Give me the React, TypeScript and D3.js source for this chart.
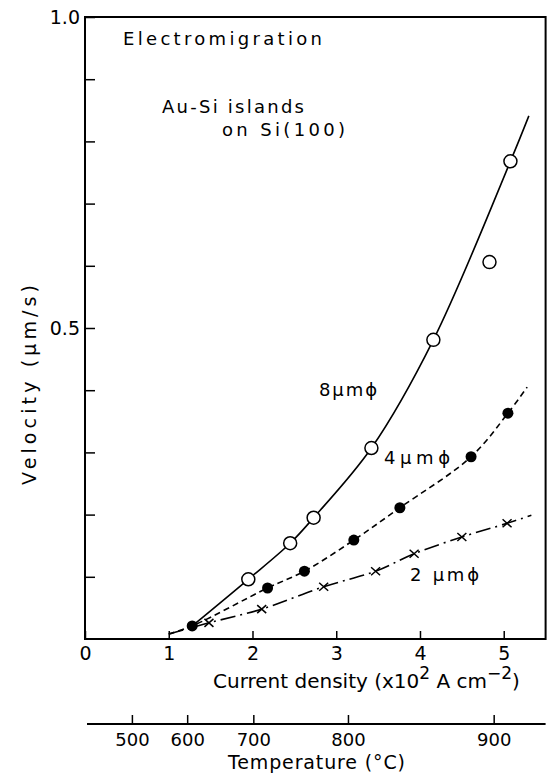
import React, { useEffect, useRef } from "react";
import * as d3 from "d3";

// current density (x10^2 A cm^-2) and velocity (um/s)
// 8 um islands, open circles
const big_j = [1.95, 2.45, 2.73, 3.42, 4.16, 4.83, 5.08];
const big_v = [0.096, 0.154, 0.195, 0.307, 0.481, 0.606, 0.768];
const bigCurve_j = [1.28, 1.95, 2.45, 2.73, 3.42, 4.16, 5.08, 5.3];
const bigCurve_v = [0.021, 0.096, 0.154, 0.195, 0.307, 0.481, 0.768, 0.841];

// 4 um islands, filled circles
const mid_j = [1.28, 2.18, 2.62, 3.21, 3.76, 4.61, 5.05];
const mid_v = [0.021, 0.082, 0.109, 0.159, 0.211, 0.293, 0.363];
const midCurve_j = [1.0, 1.28, 2.18, 2.62, 3.21, 3.76, 4.61, 5.05, 5.28];
const midCurve_v = [0.008, 0.021, 0.082, 0.109, 0.159, 0.211, 0.293, 0.363, 0.405];

// 2 um islands, crosses
const small_j = [1.48, 2.11, 2.85, 3.47, 3.93, 4.5, 5.04];
const small_v = [0.026, 0.048, 0.084, 0.109, 0.137, 0.164, 0.186];
const smallCurve_j = [1.0, 1.48, 2.11, 2.85, 3.47, 3.93, 4.5, 5.04, 5.33];
const smallCurve_v = [0.008, 0.026, 0.048, 0.084, 0.109, 0.137, 0.164, 0.186, 0.199];

// axes
const densityTicks = [0, 1, 2, 3, 4, 5];
const velocityTicks = [0.1, 0.2, 0.3, 0.4, 0.5, 0.6, 0.7, 0.8, 0.9, 1.0];
const velocityLabels = [0.5, 1.0];
const tempTicks = [500, 600, 700, 800, 900];
const tempAtDensity = [0.56, 1.22, 2.01, 3.14, 4.88]; // where each temperature sits on the density axis

const W = 547;
const H = 779;
const FONT = "'DejaVu Sans', sans-serif";

const App = () => {
  const svgRef = useRef<SVGSVGElement>(null);

  useEffect(() => {
    const svg = d3.select(svgRef.current);
    svg.selectAll("*").remove();

    const x = d3.scaleLinear().domain([0, 5.5]).range([85, 545.6]);
    const y = d3.scaleLinear().domain([0, 1]).range([639, 17]);

    svg.append("rect").attr("width", W).attr("height", H).attr("fill", "#fff");

    // frame
    svg.append("rect")
      .attr("x", x(0)).attr("y", y(1))
      .attr("width", x(5.5) - x(0)).attr("height", y(0) - y(1))
      .attr("fill", "none").attr("stroke", "#000").attr("stroke-width", 2);

    // x axis, ticks pointing in
    const gx = svg.append("g")
      .attr("transform", `translate(0,${y(0)})`)
      .call(d3.axisBottom(x).tickValues(densityTicks).tickFormat(d => String(d))
        .tickSizeInner(-8).tickSizeOuter(0).tickPadding(8));
    gx.select(".domain").remove();
    gx.attr("font-size", 19).attr("font-family", FONT);
    gx.selectAll("line").attr("stroke-width", 1.5);

    // y axis
    const gy = svg.append("g")
      .attr("transform", `translate(${x(0)},0)`)
      .call(d3.axisLeft(y).tickValues(velocityTicks)
        .tickFormat(d => (velocityLabels.includes(+d) ? (+d).toFixed(1) : ""))
        .tickSizeInner(-10).tickSizeOuter(0).tickPadding(5));
    gy.select(".domain").remove();
    gy.attr("font-size", 19).attr("font-family", FONT);
    gy.selectAll("line").attr("stroke-width", 1.5);

    // temperature axis under the chart
    const t = d3.scaleLinear().domain(tempTicks).range(tempAtDensity.map(d => x(d)));
    const gt = svg.append("g")
      .attr("transform", "translate(0,724)")
      .call(d3.axisBottom(t).tickValues(tempTicks).tickFormat(d => String(d))
        .tickSizeInner(-9).tickSizeOuter(0).tickPadding(9));
    gt.select(".domain").remove();
    gt.attr("font-size", 18).attr("font-family", FONT);
    gt.selectAll("line").attr("stroke-width", 1.5);
    gt.append("line")
      .attr("x1", x(0) + 2).attr("x2", x(5.5))
      .attr("stroke", "#000").attr("stroke-width", 2);

    // curves
    const line = d3.line<[number, number]>()
      .x(d => x(d[0]))
      .y(d => y(d[1]))
      .curve(d3.curveCatmullRom.alpha(0.5));

    const curves = [
      { j: bigCurve_j, v: bigCurve_v, dash: null },
      { j: midCurve_j, v: midCurve_v, dash: "6,4" },
      { j: smallCurve_j, v: smallCurve_v, dash: "15,5,2,5" },
    ];
    curves.forEach(c => {
      svg.append("path")
        .attr("d", line(d3.zip(c.j, c.v) as [number, number][]))
        .attr("fill", "none")
        .attr("stroke", "#000")
        .attr("stroke-width", 1.6)
        .attr("stroke-dasharray", c.dash);
    });

    // markers
    svg.selectAll(".cross")
      .data(d3.zip(small_j, small_v))
      .join("path")
      .attr("class", "cross")
      .attr("transform", d => `translate(${x(d[0])},${y(d[1])})`)
      .attr("d", "M-4.5,-4L4.5,4M-4.5,4L4.5,-4")
      .attr("stroke", "#000")
      .attr("stroke-width", 1.5);

    svg.selectAll(".filled")
      .data(d3.zip(mid_j, mid_v))
      .join("circle")
      .attr("class", "filled")
      .attr("cx", d => x(d[0]))
      .attr("cy", d => y(d[1]))
      .attr("r", 5.5)
      .attr("fill", "#000");

    svg.selectAll(".open")
      .data(d3.zip(big_j, big_v))
      .join("circle")
      .attr("class", "open")
      .attr("cx", d => x(d[0]))
      .attr("cy", d => y(d[1]))
      .attr("r", 6.5)
      .attr("fill", "#fff")
      .attr("stroke", "#000")
      .attr("stroke-width", 1.5);

    // texts
    const label = (txt: string, px: number, py: number, size: number, len?: number) => {
      const el = svg.append("text")
        .attr("x", px).attr("y", py)
        .attr("font-family", FONT).attr("font-size", size)
        .attr("fill", "#000")
        .text(txt);
      if (len) el.attr("textLength", len).attr("lengthAdjust", "spacing");
      return el;
    };
    label("Electromigration", 123, 45, 18, 199);
    label("Au-Si islands", 162, 113, 18, 142);
    label("on Si(100)", 222, 136, 18, 123);
    label("8μmϕ", 319, 396, 18, 58);
    label("4μmϕ", 384, 464, 18, 66);
    label("2 μmϕ", 410, 581, 18, 69);
    label("Temperature (°C)", 228, 769, 19, 177);

    // x title with superscripts
    const xt = svg.append("text")
      .attr("x", 213).attr("y", 688)
      .attr("font-family", FONT).attr("font-size", 20);
    xt.append("tspan").text("Current density (x10");
    xt.append("tspan").attr("dy", -9).attr("font-size", 17).text("2");
    xt.append("tspan").attr("dy", 9).text(" A cm");
    xt.append("tspan").attr("dy", -9).attr("font-size", 17).text("−2");
    xt.append("tspan").attr("dy", 9).text(")");

    // y title
    svg.append("text")
      .attr("transform", "translate(36,385) rotate(-90)")
      .attr("text-anchor", "middle")
      .attr("font-family", FONT).attr("font-size", 19)
      .attr("textLength", 200).attr("lengthAdjust", "spacing")
      .text("Velocity (μm/s)");
  }, []);

  return (
    <svg
      ref={svgRef}
      width={W}
      height={H}
      style={{ position: "absolute", left: 0, top: 0 }}
    />
  );
};

export default App;
